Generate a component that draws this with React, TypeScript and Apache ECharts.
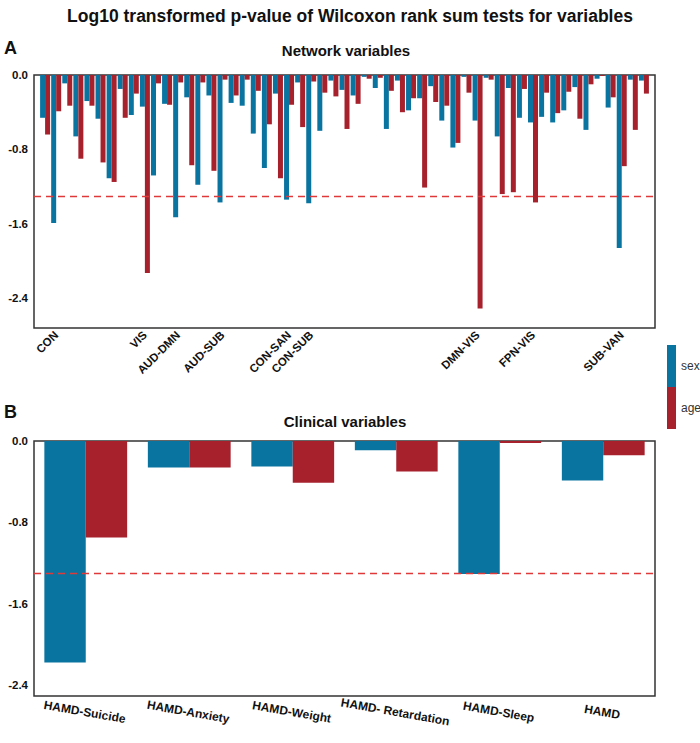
import React, { useEffect, useRef } from 'react';
import * as echarts from 'echarts';

const networkVariables = [
  'AUD', 'CON', 'DAN', 'DMN', 'FPN', 'SAN', 'SMN', 'SUB', 'VAN', 'VIS',
  'AUD-CON', 'AUD-DAN', 'AUD-DMN', 'AUD-FPN', 'AUD-SAN', 'AUD-SMN', 'AUD-SUB', 'AUD-VAN', 'AUD-VIS',
  'CON-DAN', 'CON-DMN', 'CON-FPN', 'CON-SAN', 'CON-SMN', 'CON-SUB', 'CON-VAN', 'CON-VIS',
  'DAN-DMN', 'DAN-FPN', 'DAN-SAN', 'DAN-SMN', 'DAN-SUB', 'DAN-VAN', 'DAN-VIS',
  'DMN-FPN', 'DMN-SAN', 'DMN-SMN', 'DMN-SUB', 'DMN-VAN', 'DMN-VIS',
  'FPN-SAN', 'FPN-SMN', 'FPN-SUB', 'FPN-VAN', 'FPN-VIS',
  'SAN-SMN', 'SAN-SUB', 'SAN-VAN', 'SAN-VIS',
  'SMN-SUB', 'SMN-VAN', 'SMN-VIS',
  'SUB-VAN', 'SUB-VIS',
  'VAN-VIS',
];

const labelledNetworkVariables = ['CON', 'VIS', 'AUD-DMN', 'AUD-SUB', 'CON-SAN', 'CON-SUB', 'DMN-VIS', 'FPN-VIS', 'SUB-VAN'];

const sexNetwork = [
  -0.46, -1.59, -0.09, -0.66, -0.28, -0.47, -1.11, -0.15, -0.43, -0.34,
  -1.08, -0.31, -1.53, -0.24, -1.18, -0.22, -1.37, -0.30, -0.33, -0.63,
  -1.00, -0.20, -1.34, -0.08, -1.38, -0.60, -0.06, -0.16, -0.22, -0.02,
  -0.14, -0.58, -0.06, -0.38, -0.25, -0.12, -0.49, -0.78, -0.02, -0.49,
  -0.03, -0.66, -0.14, -0.46, -0.51, -0.45, -0.51, -0.38, -0.13, -0.59,
  -0.04, -0.35, -1.86, -0.05, -0.06,
];

const ageNetwork = [
  -0.64, -0.39, -0.33, -0.90, -0.33, -0.94, -1.15, -0.46, -0.20, -2.13,
  -0.09, -0.32, -0.08, -0.97, -0.08, -1.03, -0.05, -0.22, -0.05, -0.17,
  -0.53, -1.11, -0.32, -0.56, -0.07, -0.19, -0.23, -0.58, -0.31, -0.04,
  -0.03, -0.17, -0.40, -0.25, -1.21, -0.29, -0.33, -0.73, -0.19, -2.51,
  -0.05, -1.28, -1.26, -0.15, -1.37, -0.19, -0.41, -0.18, -0.47, -0.10,
  -0.01, -0.24, -0.98, -0.59, -0.20,
];

const clinicalVariables = ['HAMD-Suicide', 'HAMD-Anxiety', 'HAMD-Weight', 'HAMD- Retardation', 'HAMD-Sleep', 'HAMD'];
const sexClinical = [-2.18, -0.26, -0.25, -0.09, -1.31, -0.39];
const ageClinical = [-0.95, -0.26, -0.41, -0.30, -0.02, -0.14];

const yTicks = [0, -0.8, -1.6, -2.4];
const threshold = Math.log10(0.05);

const FONT = '"Liberation Sans", Arial, Helvetica, sans-serif';
const BLUE = '#0a74a1';
const RED = '#a6212c';
const DASH = '#e0393a';

export default function App() {
  const ref = useRef<HTMLDivElement>(null);

  useEffect(() => {
    if (!ref.current) return;
    const chart = echarts.init(ref.current, undefined, { renderer: 'svg' });

    const labelIdx = labelledNetworkVariables.map((n) => networkVariables.indexOf(n));

    const markLine = {
      silent: true,
      symbol: 'none',
      label: { show: false },
      lineStyle: { color: DASH, type: [7, 5], width: 1.3 },
      data: [{ yAxis: threshold }],
    };

    const yAxisBase = {
      type: 'value',
      max: 0,
      splitLine: { show: false },
      axisLine: { show: false },
      axisTick: { show: false },
      axisLabel: {
        customValues: yTicks,
        formatter: (v: number) => (v === 0 ? '0.0' : v.toFixed(1)),
        fontWeight: 'bold',
        fontSize: 11.5,
        color: '#111',
        fontFamily: FONT,
        margin: 6,
      },
    };

    chart.setOption({
      animation: false,
      backgroundColor: '#fff',
      textStyle: { fontFamily: FONT },
      graphic: [
        {
          type: 'text', x: 350, y: 16,
          style: { text: 'Log10 transformed p-value of Wilcoxon rank sum tests for variables', font: `bold 17.5px ${FONT}`, fill: '#111', align: 'center', verticalAlign: 'middle' },
        },
        { type: 'text', x: 4, y: 48, style: { text: 'A', font: `bold 18px ${FONT}`, fill: '#111', align: 'left', verticalAlign: 'middle' } },
        { type: 'text', x: 346, y: 50, style: { text: 'Network variables', font: `bold 15px ${FONT}`, fill: '#111', align: 'center', verticalAlign: 'middle' } },
        { type: 'text', x: 4, y: 412, style: { text: 'B', font: `bold 18px ${FONT}`, fill: '#111', align: 'left', verticalAlign: 'middle' } },
        { type: 'text', x: 345, y: 421, style: { text: 'Clinical variables', font: `bold 15px ${FONT}`, fill: '#111', align: 'center', verticalAlign: 'middle' } },
      ],
      legend: {
        data: ['sex', 'age'],
        orient: 'vertical',
        left: 667,
        top: 345,
        padding: 0,
        itemWidth: 9,
        itemHeight: 42,
        itemGap: 0,
        icon: 'rect',
        selectedMode: false,
        textStyle: { fontSize: 12, color: '#333', fontFamily: FONT },
      },
      grid: [
        { left: 34, top: 75, width: 621, height: 253, show: true, borderColor: '#333', borderWidth: 1.5, backgroundColor: 'transparent' },
        { left: 34, top: 441, width: 621, height: 255, show: true, borderColor: '#333', borderWidth: 1.5, backgroundColor: 'transparent' },
      ],
      xAxis: [
        {
          gridIndex: 0,
          type: 'value',
          min: -1,
          max: 55,
          interval: 1,
          splitLine: { show: false },
          axisLine: { show: false },
          axisTick: { show: false },
          axisLabel: {
            customValues: labelIdx,
            formatter: (v: number) => networkVariables[v] ?? '',
            rotate: 45,
            fontWeight: 'bold',
            fontSize: 11.5,
            color: '#111',
            fontFamily: FONT,
            margin: 5,
          },
        },
        {
          gridIndex: 1,
          type: 'category',
          data: clinicalVariables,
          axisLine: { show: false },
          axisTick: { show: false },
          axisLabel: {
            interval: 0,
            rotate: -10,
            align: 'center',
            verticalAlign: 'top',
            fontWeight: 'bold',
            fontSize: 12,
            color: '#111',
            fontFamily: FONT,
            margin: 10,
          },
        },
      ],
      yAxis: [
        { ...yAxisBase, gridIndex: 0, min: -2.72 },
        { ...yAxisBase, gridIndex: 1, min: -2.51 },
      ],
      series: [
        {
          name: 'sex', type: 'bar', xAxisIndex: 0, yAxisIndex: 0,
          data: sexNetwork.map((v, i) => [i, v]),
          barWidth: 5, barGap: '0%',
          itemStyle: { color: BLUE },
          markLine,
        },
        {
          name: 'age', type: 'bar', xAxisIndex: 0, yAxisIndex: 0,
          data: ageNetwork.map((v, i) => [i, v]),
          barWidth: 5, barGap: '0%',
          itemStyle: { color: RED },
        },
        {
          name: 'sex', type: 'bar', xAxisIndex: 1, yAxisIndex: 1,
          data: sexClinical,
          barCategoryGap: '20%', barGap: '0%',
          itemStyle: { color: BLUE },
          markLine,
        },
        {
          name: 'age', type: 'bar', xAxisIndex: 1, yAxisIndex: 1,
          data: ageClinical,
          barCategoryGap: '20%', barGap: '0%',
          itemStyle: { color: RED },
        },
      ],
    });

    return () => chart.dispose();
  }, []);

  return <div ref={ref} style={{ position: 'fixed', left: 0, top: 0, width: 700, height: 743 }} />;
}
